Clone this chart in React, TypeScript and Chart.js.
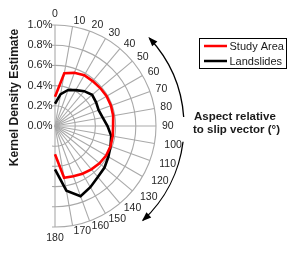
import React, { useEffect, useRef } from 'react';
import { Chart, registerables } from 'chart.js';

Chart.register(...registerables);

// ---- data ----
const angles = [0, 10, 20, 30, 40, 50, 60, 70, 80, 90, 100, 110, 120, 130, 140, 150, 160, 170, 180];
const studyArea = [0.29, 0.53, 0.56, 0.58, 0.58, 0.585, 0.59, 0.59, 0.585, 0.575, 0.58, 0.585, 0.585, 0.575, 0.56, 0.545, 0.53, 0.52, 0.28];
const landslides = [0.22, 0.32, 0.38, 0.41, 0.45, 0.48, 0.47, 0.46, 0.48, 0.52, 0.565, 0.585, 0.61, 0.64, 0.66, 0.70, 0.74, 0.65, 0.43];
const seriesNames = ['Study Area', 'Landslides'];
const seriesColors = ['#ff0000', '#000000'];
const radialMin = 0;
const radialMax = 1.0;
const radialStep = 0.2;
const yTitle = 'Kernel Density Estimate';
const angleTitle = ['Aspect relative', 'to slip vector (°)'];
const hiddenHalfCount = 17; // 190..350 are not shown

const FONT = "'Liberation Sans', Arial, Helvetica, sans-serif";
const CANVAS_LEFT = -46;
const CANVAS_W = 341;
const CANVAS_H = 256;
const GRID = '#a9a9a9';

const allLabels = [...angles.map(String), ...new Array(hiddenHalfCount).fill('')];
const pad = (arr: number[]) => [...arr, ...new Array(hiddenHalfCount).fill(null)];

const decorPlugin = {
  id: 'decor',
  beforeDraw(chart: any) {
    const s = chart.scales.r;
    const ctx = chart.ctx;
    ctx.save();
    ctx.beginPath();
    ctx.rect(s.xCenter - 3, 0, chart.width, chart.height);
    ctx.clip();
  },
  beforeDatasetsDraw(chart: any) {
    chart.ctx.restore();
  },
  afterDraw(chart: any) {
    const s = chart.scales.r;
    const ctx = chart.ctx;
    const ox = -CANVAS_LEFT; // page -> canvas
    ctx.save();

    // radial tick labels
    ctx.font = `11px ${FONT}`;
    ctx.fillStyle = '#262626';
    ctx.textAlign = 'right';
    ctx.textBaseline = 'middle';
    for (const t of s.ticks) {
      const y = s.yCenter - s.getDistanceFromCenterForValue(t.value);
      ctx.fillText(t.value.toFixed(1) + '%', s.xCenter - 2.5, y);
    }

    // angle labels
    ctx.font = `10.5px ${FONT}`;
    angles.forEach((a, i) => {
      const extra = a > 90 && a < 140 ? 4 : 0;
      const p = s.getPointPosition(i, s.drawingArea + 6 + extra);
      let align: CanvasTextAlign = 'left';
      let base: CanvasTextBaseline = 'middle';
      if (a === 0) { align = 'center'; base = 'bottom'; }
      else if (a === 180) { align = 'center'; base = 'top'; }
      ctx.textAlign = align;
      ctx.textBaseline = base;
      ctx.fillText(chart.data.labels[i], p.x, p.y);
    });

    // y title
    ctx.save();
    ctx.translate(15 + ox, 97.5);
    ctx.rotate(-Math.PI / 2);
    ctx.font = `bold 12px ${FONT}`;
    ctx.fillStyle = '#1a1a1a';
    ctx.textAlign = 'center';
    ctx.textBaseline = 'middle';
    ctx.fillText(yTitle, 0, 0);
    ctx.restore();

    // curved arrows
    const rr = s.drawingArea + 28;
    const toRad = (deg: number) => ((deg - 90) * Math.PI) / 180;
    const drawArrow = (from: number, to: number) => {
      ctx.beginPath();
      ctx.strokeStyle = '#000';
      ctx.lineWidth = 1.3;
      ctx.arc(s.xCenter, s.yCenter, rr, toRad(from), toRad(to), to < from);
      ctx.stroke();
      const th = (to * Math.PI) / 180;
      const tip = { x: s.xCenter + rr * Math.sin(th), y: s.yCenter - rr * Math.cos(th) };
      const dir = to < from ? -1 : 1;
      const dx = dir * Math.cos(th);
      const dy = dir * Math.sin(th);
      const L = 8, W = 3.5;
      ctx.beginPath();
      ctx.fillStyle = '#000';
      ctx.moveTo(tip.x + dx * 1.5, tip.y + dy * 1.5);
      ctx.lineTo(tip.x - dx * L - dy * W, tip.y - dy * L + dx * W);
      ctx.lineTo(tip.x - dx * L + dy * W, tip.y - dy * L - dx * W);
      ctx.closePath();
      ctx.fill();
    };
    drawArrow(86, 47);
    drawArrow(97, 137);

    // angle title
    ctx.font = `bold 11.5px ${FONT}`;
    ctx.fillStyle = '#1a1a1a';
    ctx.textAlign = 'left';
    ctx.textBaseline = 'middle';
    ctx.fillText(angleTitle[0], 194 + ox, 116.5);
    ctx.fillText(angleTitle[1], 193 + ox, 129.5);

    // legend
    ctx.strokeStyle = '#000';
    ctx.lineWidth = 1;
    ctx.strokeRect(199.5 + ox, 38.5, 87, 30);
    ctx.font = `11px ${FONT}`;
    chart.data.datasets.forEach((d: any, i: number) => {
      const y = 46 + i * 15;
      ctx.beginPath();
      ctx.strokeStyle = d.borderColor;
      ctx.lineWidth = 2.5;
      ctx.moveTo(204 + ox, y);
      ctx.lineTo(227 + ox, y);
      ctx.stroke();
      ctx.fillStyle = '#1a1a1a';
      ctx.fillText(d.label, 229.5 + ox, y + 0.5);
    });

    ctx.restore();
  },
};

export default function App() {
  const ref = useRef<HTMLCanvasElement | null>(null);

  useEffect(() => {
    if (!ref.current) return;
    const chart = new Chart(ref.current, {
      type: 'radar',
      data: {
        labels: allLabels,
        datasets: [
          {
            label: seriesNames[0],
            data: pad(studyArea),
            borderColor: seriesColors[0],
            backgroundColor: seriesColors[0],
            borderWidth: 2.6,
            pointRadius: 0,
            fill: false,
            spanGaps: false,
          },
          {
            label: seriesNames[1],
            data: pad(landslides),
            borderColor: seriesColors[1],
            backgroundColor: seriesColors[1],
            borderWidth: 2.6,
            pointRadius: 0,
            fill: false,
            spanGaps: false,
          },
        ],
      },
      options: {
        responsive: false,
        animation: false,
        devicePixelRatio: 1,
        layout: { padding: { left: 0, top: 25, right: CANVAS_W - 203, bottom: CANVAS_H - 25 - 203 } },
        plugins: { legend: { display: false }, tooltip: { enabled: false } },
        elements: { line: { tension: 0 } },
        scales: {
          r: {
            min: radialMin,
            max: radialMax,
            startAngle: 0,
            ticks: { display: false, stepSize: radialStep },
            pointLabels: { display: false },
            grid: { circular: true, color: GRID, lineWidth: 1.1 },
            angleLines: {
              display: true,
              lineWidth: 1.1,
              color: (c: any) => (c.index <= angles.length - 1 ? GRID : 'rgba(0,0,0,0)'),
            },
          },
        },
      },
      plugins: [decorPlugin],
    });
    return () => chart.destroy();
  }, []);

  return (
    <div style={{ position: 'fixed', left: 0, top: 0, width: 295, height: 256, overflow: 'hidden', background: '#fff' }}>
      <canvas
        ref={ref}
        width={CANVAS_W}
        height={CANVAS_H}
        style={{ position: 'absolute', left: CANVAS_LEFT, top: 0, width: CANVAS_W, height: CANVAS_H, display: 'block' }}
      />
    </div>
  );
}
